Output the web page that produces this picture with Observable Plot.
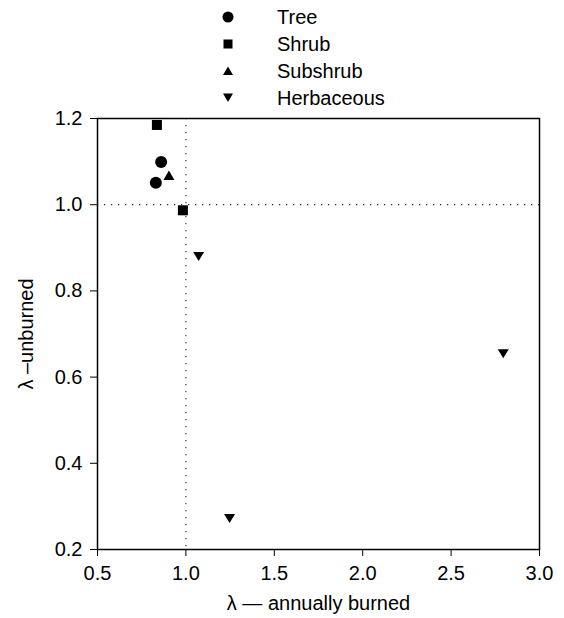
<!DOCTYPE html>
<html>
<head>
<meta charset="utf-8">
<script src="https://cdn.jsdelivr.net/npm/d3@7"></script>
<script src="https://cdn.jsdelivr.net/npm/@observablehq/plot@0.6"></script>
<style>
  body { margin: 0; background: #fff; font-family: "Liberation Sans", Arial, Helvetica, sans-serif; }
  #legend { position: relative; height: 108px; width: 564px; }
  #legend .row { position: absolute; left: 0; height: 27px; display: flex; align-items: center; }
  #legend .sym { position: absolute; left: 218px; width: 20px; height: 20px; }
  #legend .lab { position: absolute; left: 277px; font-size: 20px; white-space: nowrap; color: #000; }
  #chart svg { display: block; }
</style>
</head>
<body>
<div id="legend"></div>
<div id="chart"></div>
<script>
// ---- data ----
const types = ["Tree", "Shrub", "Subshrub", "Herbaceous"];
const pointType = ["Tree", "Tree", "Shrub", "Shrub", "Subshrub", "Herbaceous", "Herbaceous", "Herbaceous"];
const lambdaBurned = [0.86, 0.83, 0.836, 0.983, 0.904, 1.072, 1.247, 2.795];
const lambdaUnburned = [1.099, 1.051, 1.185, 0.987, 1.068, 0.880, 0.272, 0.654];
const xTicks = [0.5, 1.0, 1.5, 2.0, 2.5, 3.0];
const yTicks = [0.2, 0.4, 0.6, 0.8, 1.0, 1.2];
const refX = [1.0];
const refY = [1.0];

const points = pointType.map((t, i) => ({type: t, x: lambdaBurned[i], y: lambdaUnburned[i]}));

// ---- symbols (fixed-size glyphs) ----
const symCircle = {draw(ctx) { const r = 6; ctx.moveTo(r, 0); ctx.arc(0, 0, r, 0, 2 * Math.PI); }};
const symSquare = {draw(ctx) { const h = 5; ctx.moveTo(-h, -h); ctx.lineTo(h, -h); ctx.lineTo(h, h); ctx.lineTo(-h, h); ctx.closePath(); }};
const symTriUp = {draw(ctx) { ctx.moveTo(0, -5); ctx.lineTo(5.5, 4.5); ctx.lineTo(-5.5, 4.5); ctx.closePath(); }};
const symTriDown = {draw(ctx) { ctx.moveTo(0, 4.5); ctx.lineTo(5.5, -4.5); ctx.lineTo(-5.5, -4.5); ctx.closePath(); }};
const symbols = [symCircle, symSquare, symTriUp, symTriDown];

const legSymbols = [
  {draw(ctx) { const r = 5.5; ctx.moveTo(r, 0); ctx.arc(0, 0, r, 0, 2 * Math.PI); }},
  {draw(ctx) { const h = 4.5; ctx.moveTo(-h, -h); ctx.lineTo(h, -h); ctx.lineTo(h, h); ctx.lineTo(-h, h); ctx.closePath(); }},
  {draw(ctx) { ctx.moveTo(0, -4.5); ctx.lineTo(5, 4); ctx.lineTo(-5, 4); ctx.closePath(); }},
  {draw(ctx) { ctx.moveTo(0, 4); ctx.lineTo(5, -4.5); ctx.lineTo(-5, -4.5); ctx.closePath(); }}
];

// ---- legend ----
const legend = d3.select("#legend");
types.forEach((t, i) => {
  const row = legend.append("div").attr("class", "row").style("top", (3.5 + i * 27) + "px").style("width", "564px");
  const svg = row.append("svg").attr("class", "sym").attr("viewBox", "-10 -10 20 20");
  svg.append("path").attr("d", d3.symbol(legSymbols[i])()).attr("fill", "#000");
  row.append("span").attr("class", "lab").text(t);
});

// ---- chart ----
const chart = Plot.plot({
  width: 564,
  height: 510,
  marginLeft: 97,
  marginRight: 25,
  marginTop: 10,
  marginBottom: 69,
  style: {fontFamily: "'Liberation Sans', Arial, Helvetica, sans-serif", fontSize: "20px", color: "#000", background: "#fff"},
  x: {domain: [0.5, 3.0]},
  y: {domain: [0.2, 1.2]},
  symbol: {domain: types, range: symbols},
  marks: [
    Plot.ruleY(refY, {stroke: "#333", strokeWidth: 1.2, strokeDasharray: "1.3,5.7"}),
    Plot.ruleX(refX, {stroke: "#333", strokeWidth: 1.2, strokeDasharray: "1.3,5.7"}),
    Plot.frame({stroke: "#000", strokeWidth: 1.5}),
    Plot.axisX({ticks: xTicks, tickFormat: d3.format(".1f"), tickSize: 7, tickPadding: 9, fontSize: 20,
      label: "λ — annually burned", labelAnchor: "center", labelArrow: "none", labelOffset: 60}),
    Plot.axisY({ticks: yTicks, tickFormat: d3.format(".1f"), tickSize: 7, tickPadding: 8, fontSize: 20,
      label: "λ –unburned", labelAnchor: "center", labelArrow: "none", labelOffset: 79}),
    Plot.dot(points, {x: "x", y: "y", symbol: "type", fill: "#000", stroke: "none", r: 6})
  ]
});
document.getElementById("chart").appendChild(chart);
</script>
</body>
</html>
